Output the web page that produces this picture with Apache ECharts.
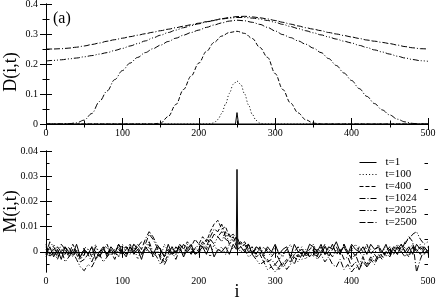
<!DOCTYPE html>
<html><head><meta charset="utf-8">
<script src="https://cdn.jsdelivr.net/npm/echarts@6/dist/echarts.min.js"></script>
<style>html,body{margin:0;padding:0;background:#fff}#c{width:436px;height:300px}</style>
</head><body><div id="c"></div><script>
// ---------- DATA ----------
const seriesNames = ['t=1','t=100','t=400','t=1024','t=2025','t=2500'];
const xTickLabels = [0,100,200,300,400,500];
const dTickLabels = [0,0.1,0.2,0.3,0.4];
const mTickLabels = [0,0.01,0.02,0.03,0.04];
const mMinorTicks = [-0.005,0.005,0.015,0.025,0.035];

// top panel, D(i,t)
const iTop = [0,10,20,30,40,50,60,70,80,90,100,110,120,130,140,150,160,170,180,190,200,210,220,230,240,250,260,270,280,290,300,310,320,330,340,350,360,370,380,390,400,410,420,430,440,450,460,470,480,490,500];
const iT1 = [0,248,250,252,500];
const dT1 = [0,0,0.038,0,0];
const iT100 = [0,210,215,220,225,230,235,240,245,250,255,260,265,270,275,280,285,290,500];
const dT100 = [0,0,0.001,0.004,0.015,0.035,0.066,0.102,0.132,0.143,0.132,0.1,0.064,0.032,0.012,0.003,0,0,0];
const dT400 = [0,0,0,0,0,0,0,0,0,0,0,0,0,0,0,0.003,0.025,0.065,0.115,0.16,0.203,0.242,0.272,0.293,0.305,0.309,0.302,0.285,0.255,0.222,0.168,0.115,0.07,0.037,0.014,0.003,0,0,0,0,0,0,0,0,0,0,0,0,0,0,0];
const dT1024 = [0,0,0,0.001,0.004,0.013,0.035,0.075,0.11,0.148,0.178,0.203,0.222,0.238,0.251,0.263,0.275,0.286,0.296,0.305,0.313,0.322,0.33,0.337,0.343,0.346,0.344,0.339,0.332,0.322,0.31,0.298,0.288,0.277,0.266,0.253,0.238,0.218,0.195,0.17,0.145,0.118,0.092,0.068,0.047,0.03,0.016,0.007,0.002,0,0];
const dT2025 = [0.21,0.212,0.214,0.217,0.22,0.224,0.228,0.233,0.238,0.245,0.252,0.26,0.268,0.277,0.287,0.296,0.305,0.313,0.321,0.328,0.334,0.34,0.345,0.35,0.353,0.355,0.355,0.353,0.35,0.345,0.339,0.332,0.325,0.318,0.311,0.304,0.297,0.29,0.283,0.276,0.27,0.262,0.255,0.247,0.24,0.233,0.226,0.22,0.215,0.211,0.209];
const dT2500 = [0.25,0.25,0.251,0.253,0.256,0.26,0.265,0.27,0.276,0.281,0.286,0.291,0.296,0.301,0.306,0.311,0.316,0.321,0.326,0.331,0.336,0.341,0.346,0.351,0.355,0.358,0.359,0.357,0.354,0.35,0.345,0.339,0.333,0.327,0.321,0.316,0.311,0.305,0.3,0.295,0.29,0.285,0.28,0.276,0.272,0.268,0.263,0.258,0.254,0.251,0.25];

// bottom panel, M(i,t) -- values in units of 1e-3
const iBottom = [0,5,10,15,20,25,30,35,40,45,50,55,60,65,70,75,80,85,90,95,100,105,110,115,120,125,130,135,140,145,150,155,160,165,170,175,180,185,190,195,200,205,210,215,220,225,230,235,240,245,250,255,260,265,270,275,280,285,290,295,300,305,310,315,320,325,330,335,340,345,350,355,360,365,370,375,380,385,390,395,400,405,410,415,420,425,430,435,440,445,450,455,460,465,470,475,480,485,490,495,500];
const mT1 = [-1,2,-2,1,-3,2,0,-1,3,-2, 1,-1,2,-3,0,2,-2,1,-1,3, 0,-2,2,-1,1,-3,2,0,-1,2, 1,-2,3,-1,0,2,-2,1,3,-1, 0,2,-1,3,-2,1,0,2,-1,3, 2,2,0,3,-1,2,1,-1,2,0, 3,-1,1,2,-2,3,0,1,-1,3, 2,0,3,-1,2,1,4,0,2,-1, 3,1,0,2,-1,3,1,2,0,3, -1,2,1,3,0,2,-1,3,1,2, 0];
const spikeI = [249,250,251];
const spikeM = [1,32.7,1];
const mT100 = [1,-2,3,0,-1,2,-2,1,0,-3, 2,1,-1,3,-2,0,2,-1,1,-2, 3,0,-1,2,-3,1,0,2,-1,1, -2,3,0,1,-1,2,-2,3,1,0, -1,2,1,-2,3,0,2,-1,3,1, 4,2,0,3,-1,2,0,-2,1,-1, 2,0,-2,1,3,-1,0,2,-2,1, 3,0,-1,2,1,3,-1,0,2,-1, 1,3,0,-2,2,1,-1,3,0,2, -1,1,3,0,2,-1,2,0,3,1, -1];
const mT400 = [2,-1,1,-2,0,2,-1,3,0,-2, 1,-1,2,0,-2,1,3,-1,0,2, -1,1,3,0,2,-1,1,3,-2,0, -2,-4,-1,2,0,3,1,4,2,5, 3,6,4,8,11,12.5,9,10,6,7, 5,3,4,1,2,-2,-1,-4,-3,-6, -5,-7,-5,-3,-4,-1,-2,0,-1,1, 2,-1,0,3,-2,1,2,-1,3,0, 1,-2,2,0,3,-1,1,2,-2,0, 2,1,-1,3,0,-2,2,1,-1,2, 0];
const mT1024 = [-2,1,-1,2,0,-1,2,-2,1,-3, -1,1,-2,2,0,1,-1,2,0,3, 1,2,0,3,2,4,3,7,5,2, -3,-5,-2,0,-3,1,-1,2,0,1, 3,2,5,4,7,6,8,5,4,6, 3,4,2,3,0,1,-1,2,0,-2, 0,-3,-1,1,-2,0,2,-1,1,-2, 0,-3,-1,-4,-2,-5,-6,-3,-7,-5, -8,-6,-7,-4,-6,-3,-5,-2,0,-1, 1,-1,2,0,-2,1,3,0,2,-1, 1];
const mT2025 = [3,-2,0,-3,1,-4,-2,0,-3,-6, -7.5,-5,-6,-3,-1,-4,-2,0,-3,1, -1,2,0,3,1,-1,2,4,0,-2, -5,-2,1,-1,2,0,3,1,-1,2, 0,3,1,5,3,6,4,8,3,5, 2,0,1,-2,-1,-3,-5,-4,-7,-6, -8,-6,-4,-7,-5,-2,-4,-1,-3,0, -2,1,-1,2,0,-2,1,-1,3,0, -3,-1,-5,-2,-6,-4,-1,-3,0,-2, 1,-1,2,0,4,5,7,8,5,3, 4];
const mT2500 = [-1,4,2,-1,3,1,-2,1,-1,-4, -3,-1,-4,0,-2,1,-1,2,0,-2, 1,-1,2,0,3,1,5,8,6,3, 1,-2,0,2,-1,3,1,0,2,-1, 1,4,2,6,9,8,11,6,7,4, 6,2,3,0,1,-1,2,-2,-4,-3, -5,-3,-6,-4,-2,-5,-1,-3,0,-2, 1,-2,2,-1,0,3,-1,1,-3,-2, -6,-4,-7,-3,-5,-2,-4,-1,-3,0, -2,1,-1,2,3,6,4,-8,-3,1, 2];

// ---------- BUILD ----------
const zip = (xs, ys, s) => xs.map((x, k) => [x, ys[k] * (s || 1)]);
const milli = 0.001;
let m1pts = iBottom.map((x, k) => [x, mT1[k] * milli]).filter(p => p[0] !== 250);
spikeI.forEach((x, k) => m1pts.push([x, spikeM[k] * milli]));
m1pts.sort((a, b) => a[0] - b[0]);

const dashes = {
  't=1': 'solid', 't=100': [1, 2.2], 't=400': [4, 2], 't=1024': [6, 2, 1, 2],
  't=2025': [6, 2, 1, 2, 1, 2], 't=2500': [6, 2, 6, 2, 1, 2]
};
const FONT = 'Liberation Serif';
const lbl = { fontFamily: FONT, fontSize: 10, color: '#000' };
const axLine = { show: true, lineStyle: { color: '#000', width: 1 } };

function xAx(grid, pos, showLabel, name) {
  return {
    type: 'value', gridIndex: grid, position: pos, min: 0, max: 500, interval: 100,
    axisLine: axLine,
    axisTick: { show: true, inside: true, length: 6, lineStyle: { color: '#000' } },
    minorTick: { show: true, splitNumber: 2, length: 3.5, lineStyle: { color: '#000' } },
    axisLabel: { show: showLabel, margin: 4, ...lbl },
    splitLine: { show: false }, minorSplitLine: { show: false },
    name: name || '', nameLocation: 'middle', nameGap: 11, nameMoveOverlap: false,
    nameTextStyle: { fontFamily: FONT, fontSize: 18, color: '#000' }
  };
}

const series = [];
function line(name, data, xi, yi, smooth) {
  series.push({
    name, type: 'line', xAxisIndex: xi, yAxisIndex: yi, data,
    symbol: 'none', smooth: smooth ? 0.35 : false, smoothMonotone: smooth ? 'x' : undefined,
    color: '#000', itemStyle: { color: '#000' },
    lineStyle: { color: '#000', width: 1, type: dashes[name] },
    silent: true, animation: false
  });
}
line('t=1', zip(iT1, dT1), 0, 0, false);
line('t=100', zip(iT100, dT100), 0, 0, true);
line('t=400', zip(iTop, dT400), 0, 0, true);
line('t=1024', zip(iTop, dT1024), 0, 0, true);
line('t=2025', zip(iTop, dT2025), 0, 0, true);
line('t=2500', zip(iTop, dT2500), 0, 0, true);

line('t=1', m1pts, 2, 2, false);
line('t=100', zip(iBottom, mT100, milli), 2, 2, false);
line('t=400', zip(iBottom, mT400, milli), 2, 2, false);
line('t=1024', zip(iBottom, mT1024, milli), 2, 2, false);
line('t=2025', zip(iBottom, mT2025, milli), 2, 2, false);
line('t=2500', zip(iBottom, mT2500, milli), 2, 2, false);

const mMin = -0.008, mMax = 0.04;
function mAx(pos, major, showLabel, name) {
  return {
    type: 'value', gridIndex: 1, position: pos, min: mMin, max: mMax,
    axisLine: major ? axLine : { show: false },
    axisTick: { show: true, inside: true, length: major ? 6 : 3.5, lineStyle: { color: '#000' },
      customValues: major ? mTickLabels : mMinorTicks },
    axisLabel: { show: showLabel, margin: 8, ...lbl, customValues: mTickLabels },
    splitLine: { show: false },
    name: name || '', nameLocation: 'middle', nameGap: 26, nameMoveOverlap: false,
    nameTextStyle: { fontFamily: FONT, fontSize: 18, color: '#000' }
  };
}
function dAx(pos, showLabel, name) {
  return {
    type: 'value', gridIndex: 0, position: pos, min: 0, max: 0.4, interval: 0.1,
    axisLine: axLine,
    axisTick: { show: true, inside: true, length: 6, lineStyle: { color: '#000' } },
    minorTick: { show: true, splitNumber: 2, length: 3.5, lineStyle: { color: '#000' } },
    axisLabel: { show: showLabel, margin: 8, ...lbl },
    splitLine: { show: false }, minorSplitLine: { show: false },
    name: name || '', nameLocation: 'middle', nameGap: 26, nameMoveOverlap: false,
    nameTextStyle: { fontFamily: FONT, fontSize: 18, color: '#000', padding: [0, 16, 0, 0] }
  };
}

const option = {
  animation: false,
  backgroundColor: '#fff',
  title: { text: '(a)', left: 53, top: 11, padding: 0,
    textStyle: { fontFamily: FONT, fontSize: 16, fontWeight: 'normal', color: '#000' } },
  grid: [
    { left: 46, right: 8, top: 4, height: 120, containLabel: false, outerBoundsMode: 'none' },
    { left: 46, right: 8, top: 151, height: 121, containLabel: false, outerBoundsMode: 'none' }
  ],
  xAxis: [xAx(0, 'bottom', true), xAx(0, 'top', false), xAx(1, 'bottom', true, 'i'), xAx(1, 'top', false)],
  yAxis: [dAx('left', true, 'D(i,t)'), dAx('right', false),
          mAx('left', true, true, 'M(i,t)'), mAx('right', true, false),
          mAx('left', false, false), mAx('right', false, false)],
  legend: {
    data: seriesNames, orient: 'vertical', left: 359, top: 157,
    itemWidth: 17, itemHeight: 8, itemGap: 1, padding: 0,
    selectedMode: false,
    itemStyle: { opacity: 0 },
    lineStyle: { width: 1 },
    textStyle: { fontFamily: FONT, fontSize: 11, color: '#000', lineHeight: 11, padding: [0, 0, 0, 4] }
  },
  series
};
const chart = echarts.init(document.getElementById('c'), null, { renderer: 'canvas' });
chart.setOption(option);
</script></body></html>
